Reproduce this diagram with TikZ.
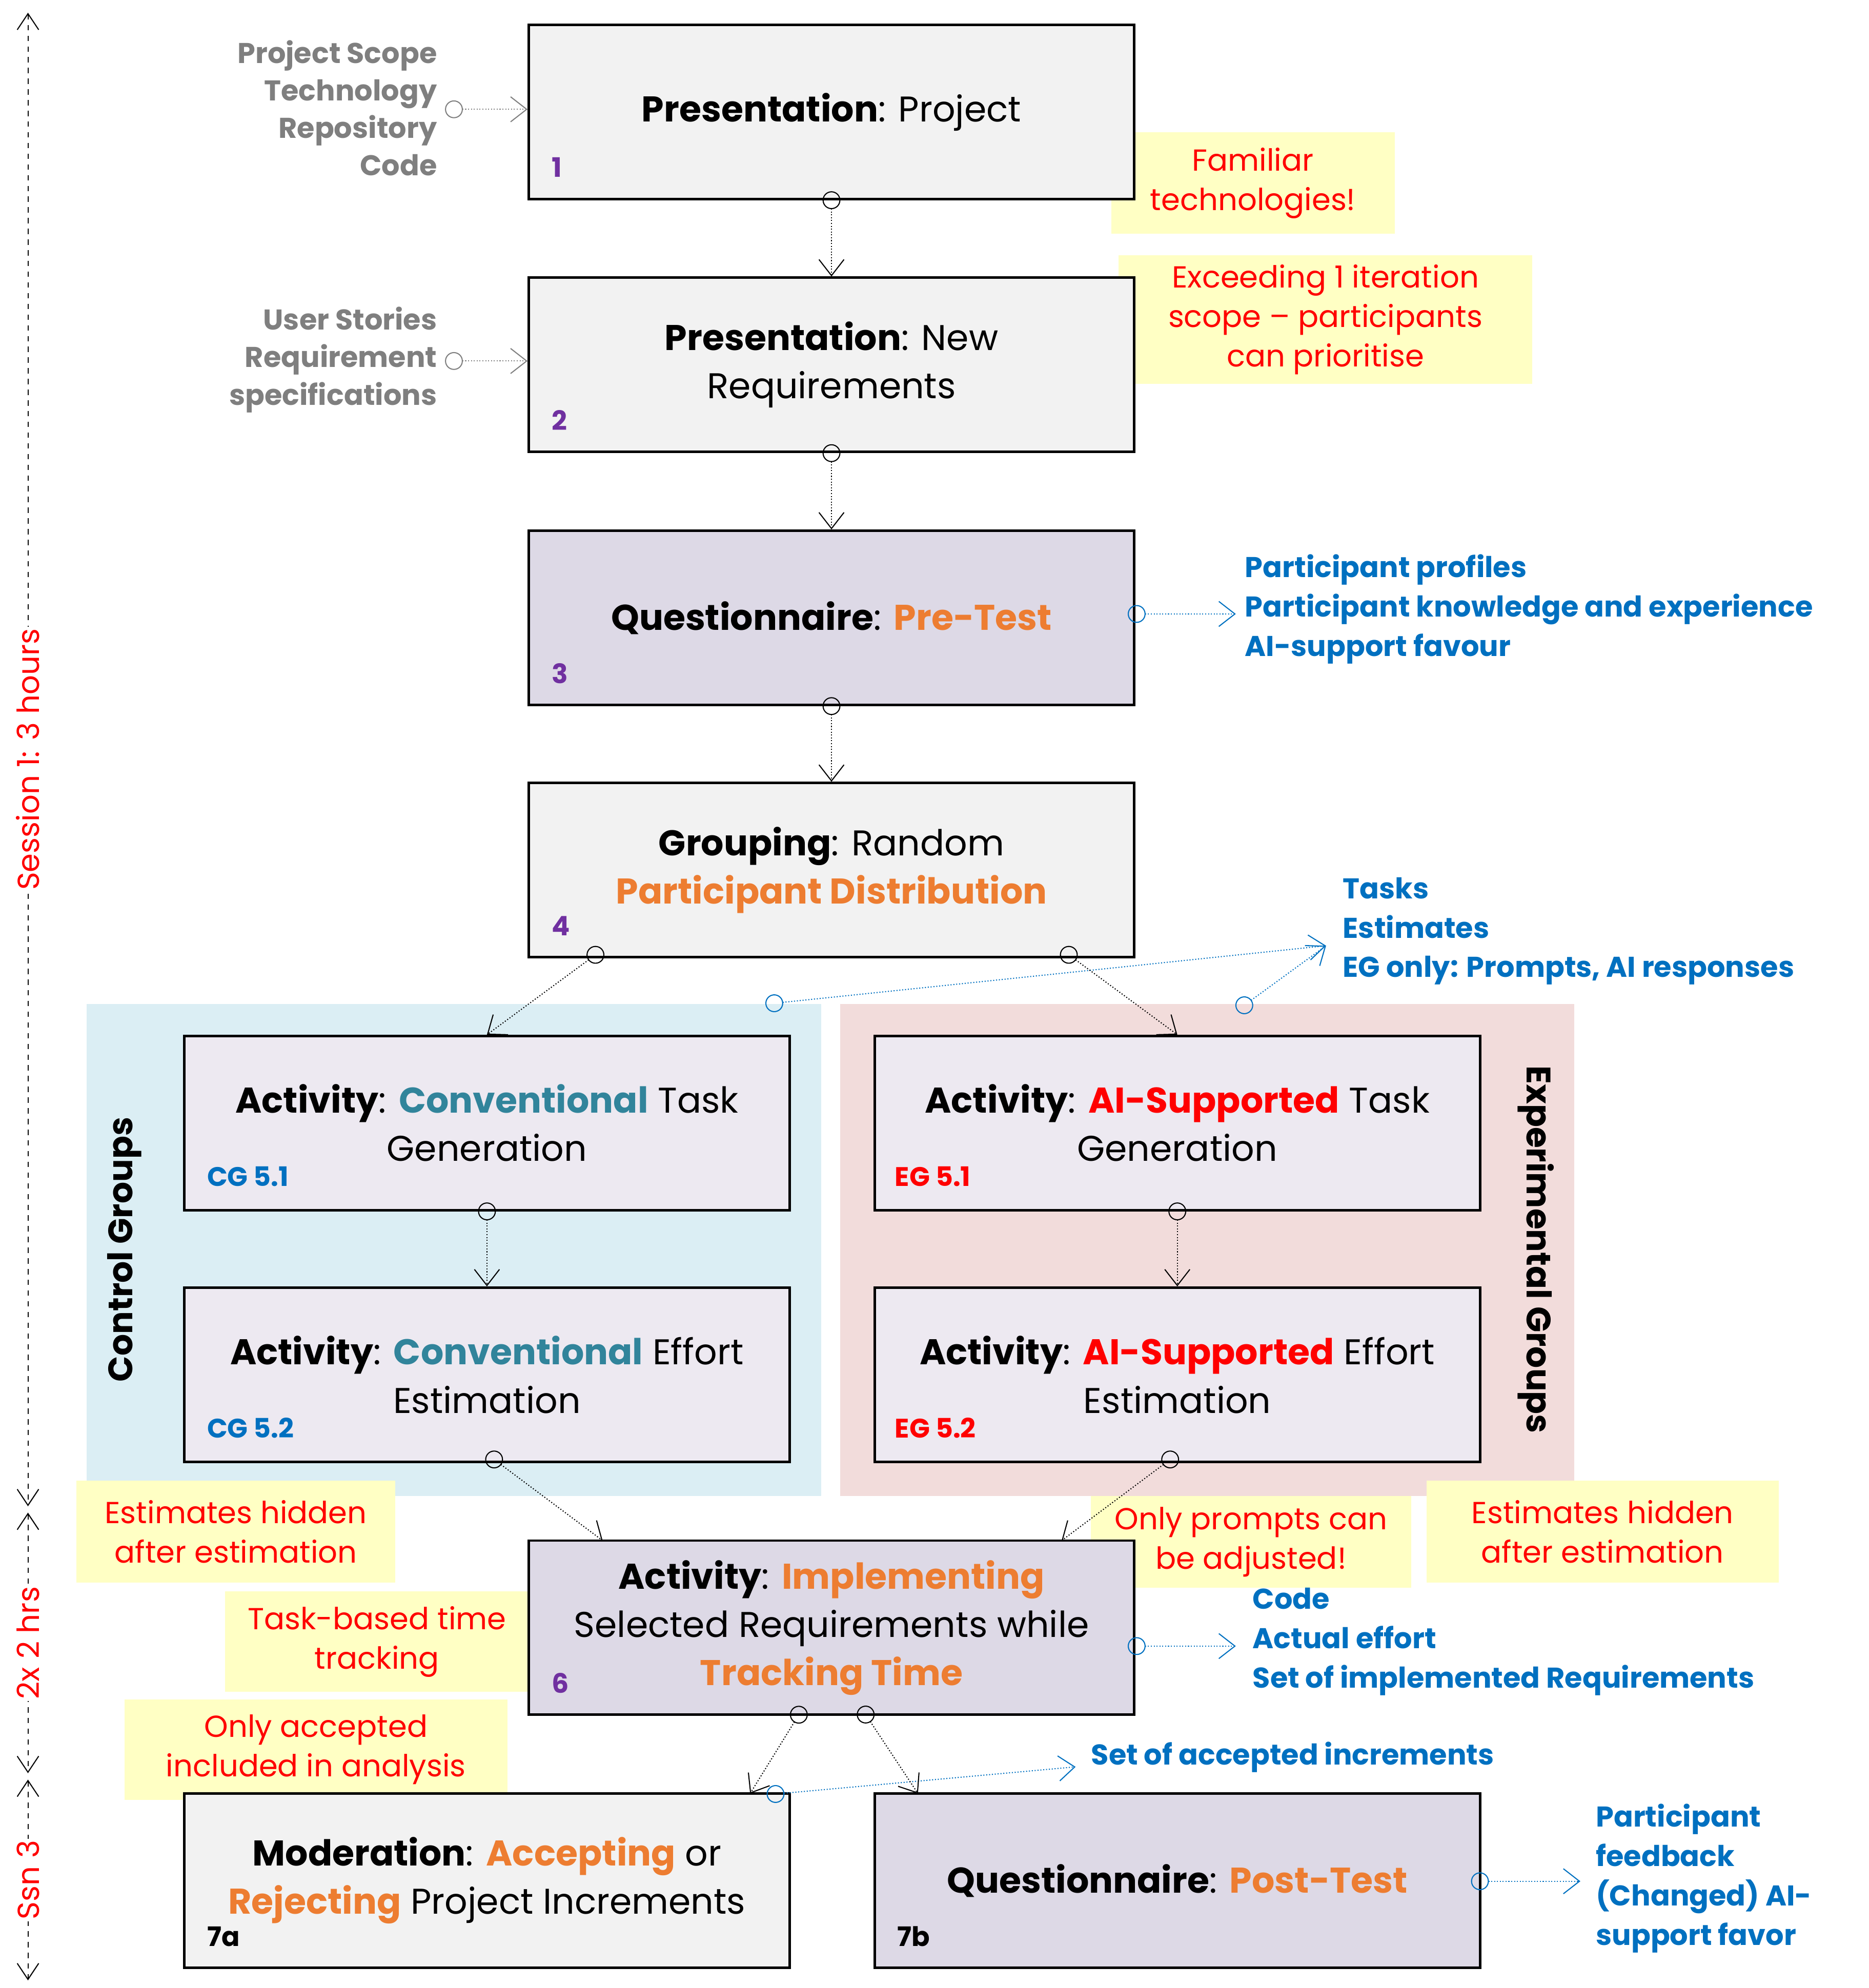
\documentclass[tikz,border=0pt]{standalone}
\usepackage{fontspec}
\setmainfont{Poppins}
\usetikzlibrary{arrows.meta,positioning}

\definecolor{boxgray}{HTML}{F2F2F2}
\definecolor{boxlila}{HTML}{DDD9E6}
\definecolor{boxpale}{HTML}{EDE9F1}
\definecolor{cgback}{HTML}{DBEEF4}
\definecolor{egback}{HTML}{F2DCDB}
\definecolor{notey}{HTML}{FFFFC4}
\definecolor{orng}{HTML}{ED7D31}
\definecolor{teal}{HTML}{31849B}
\definecolor{blu}{HTML}{0070C0}
\definecolor{purp}{HTML}{7030A0}
\definecolor{gry}{HTML}{7F7F7F}

\tikzset{
  stage/.style={draw, line width=1.4pt, minimum width=11.9cm, minimum height=3.425cm,
    align=center, font=\fontsize{20}{27}\selectfont, inner sep=0pt},
  num/.style={anchor=base west, font=\fontsize{15}{18}\selectfont\bfseries, text=purp},
  note/.style={fill=notey, text=red, align=center, font=\fontsize{17}{22}\selectfont, inner sep=0pt},
  info/.style={anchor=north west, align=left, text=blu, font=\fontsize{16}{22}\selectfont\bfseries, inner sep=0pt},
  flow/.style={densely dotted, line width=0.6pt, {Circle[open,length=10pt,width=10pt,line width=0.6pt]}-{Straight Barb[length=9pt,width=14pt,line width=0.6pt]}},
  outflow/.style={flow, blu},
  inflow/.style={flow, gry},
  span/.style={dashed, line width=0.6pt, {Straight Barb[length=9pt,width=12pt]}-{Straight Barb[length=9pt,width=12pt]}},
  spanlabel/.style={rotate=90, fill=white, text=red, font=\fontsize{17}{20}\selectfont, inner sep=1pt}
}

\begin{document}
\begin{tikzpicture}[x=0.025cm, y=-0.025cm]
\useasboundingbox (0,0) rectangle (1470,1564);

% group backgrounds
\fill[cgback] (68,790) rectangle (646,1177);
\fill[egback] (661,790) rectangle (1238,1177);
\node[rotate=90, font=\fontsize{19}{22}\selectfont\bfseries] (cglabel) at (98,983) {Control Groups};
\node[rotate=-90, font=\fontsize{19}{22}\selectfont\bfseries] (eglabel) at (1208,983) {Experimental Groups};

% yellow notes
\node[note, minimum width=5.575cm, minimum height=2cm] (nfam) at (985.5,144) {Familiar\\technologies!};
\node[note, minimum width=8.125cm, minimum height=2.525cm] (nexc) at (1042.5,251.5) {Exceeding 1 iteration\\scope -- participants\\can prioritise};
\node[note, minimum width=6.275cm, minimum height=2cm] (nhid1) at (185.5,1205) {Estimates hidden\\after estimation};
\node[note, minimum width=6.3cm, minimum height=1.8cm] (nprm) at (984,1213) {Only prompts can\\be adjusted!};
\node[note, minimum width=6.925cm, minimum height=2cm] (nhid2) at (1260.5,1205) {Estimates hidden\\after estimation};
\node[note, minimum width=5.975cm, minimum height=1.975cm] (ntrk) at (296.5,1291.5) {Task-based time\\tracking};
\node[note, minimum width=7.525cm, minimum height=1.975cm] (nacc) at (248.5,1376.5) {Only accepted\\included in analysis};

% stages
\node[stage, fill=boxgray] (b1) at (654,88) {\textbf{Presentation}: Project};
\node[stage, fill=boxgray] (b2) at (654,287) {\textbf{Presentation}: New\\Requirements};
\node[stage, fill=boxlila] (b3) at (654,486) {\textbf{Questionnaire}: \textbf{\color{orng}Pre-Test}};
\node[stage, fill=boxgray] (b4) at (654,684.5) {\textbf{Grouping}: Random\\\textbf{\color{orng}Participant Distribution}};
\node[stage, fill=boxpale] (cg1) at (383,883.5) {\textbf{Activity}: \textbf{\color{teal}Conventional} Task\\Generation};
\node[stage, fill=boxpale] (cg2) at (383,1081.5) {\textbf{Activity}: \textbf{\color{teal}Conventional} Effort\\Estimation};
\node[stage, fill=boxpale] (eg1) at (926,883.5) {\textbf{Activity}: \textbf{\color{red}AI-Supported} Task\\Generation};
\node[stage, fill=boxpale] (eg2) at (926,1081.5) {\textbf{Activity}: \textbf{\color{red}AI-Supported} Effort\\Estimation};
\node[stage, fill=boxlila] (b6) at (654,1280.5) {\textbf{Activity}: \textbf{\color{orng}Implementing}\\Selected Requirements while\\\textbf{\color{orng}Tracking Time}};
\node[stage, fill=boxgray] (b7a) at (383,1479.5) {\textbf{Moderation}: \textbf{\color{orng}Accepting} or\\\textbf{\color{orng}Rejecting} Project Increments};
\node[stage, fill=boxlila] (b7b) at (926,1479.5) {\textbf{Questionnaire}: \textbf{\color{orng}Post-Test}};

% stage numbers
\node[num] at ([shift={(0.35cm,0.45cm)}]b1.south west) {1};
\node[num] at ([shift={(0.35cm,0.45cm)}]b2.south west) {2};
\node[num] at ([shift={(0.35cm,0.45cm)}]b3.south west) {3};
\node[num] at ([shift={(0.35cm,0.45cm)}]b4.south west) {4};
\node[num, text=blu] at ([shift={(0.35cm,0.5cm)}]cg1.south west) {CG 5.1};
\node[num, text=blu] at ([shift={(0.35cm,0.5cm)}]cg2.south west) {CG 5.2};
\node[num, text=red] at ([shift={(0.3cm,0.5cm)}]eg1.south west) {EG 5.1};
\node[num, text=red] at ([shift={(0.3cm,0.5cm)}]eg2.south west) {EG 5.2};
\node[num] at ([shift={(0.35cm,0.45cm)}]b6.south west) {6};
\node[num, text=black] at ([shift={(0.35cm,0.45cm)}]b7a.south west) {7a};
\node[num, text=black] at ([shift={(0.35cm,0.45cm)}]b7b.south west) {7b};

% inputs
\node[anchor=east, align=right, text=gry, font=\fontsize{16}{21}\selectfont\bfseries, inner sep=0pt] (in1) at (344,85) {Project Scope\\Technology\\Repository\\Code};
\node[anchor=east, align=right, text=gry, font=\fontsize{16}{21}\selectfont\bfseries, inner sep=0pt] (in2) at (344,283) {User Stories\\Requirement\\specifications};
\coordinate (in1s) at (350,86);
\coordinate (in2s) at (350,284);
\draw[inflow] (in1s) -- (in1s -| b1.west);
\draw[inflow] (in2s) -- (in2s -| b2.west);

% outputs
\node[info] (out3) at (979,436) {Participant profiles\\Participant knowledge and experience\\AI-support favour};
\node[info] (out4) at (1056,690) {Tasks\\Estimates\\EG only: Prompts, AI responses};
\node[info] (out6) at (985,1249) {Code\\Actual effort\\Set of implemented Requirements};
\node[info] (out7) at (858,1370) {Set of accepted increments};
\node[info] (out7b) at (1255,1419) {Participant\\feedback\\(Changed) AI-\\support favor};

\coordinate (o3) at (887,483);
\coordinate (o4a) at (602,790);
\coordinate (o4b) at (973,795);
\coordinate (o4t) at (1043,744);
\coordinate (o6) at (887,1295);
\coordinate (o7) at (603,1412);
\coordinate (o7t) at (846,1390);
\coordinate (o7b) at (1157,1480);
\draw[outflow] (o3) -- (972,483);
\draw[outflow] (o4a) -- (o4t);
\draw[outflow] (o4b) -- (o4t);
\draw[outflow] (o6) -- (972,1295);
\draw[outflow] (o7) -- (o7t);
\draw[outflow] (o7b) -- (1243,1480);

% main flow
\draw[flow] ([yshift=5pt]b1.south) -- (b2.north);
\draw[flow] ([yshift=5pt]b2.south) -- (b3.north);
\draw[flow] ([yshift=5pt]b3.south) -- (b4.north);
\coordinate (s4a) at (474,747);
\coordinate (s4b) at (835,747);
\draw[flow] (s4a) -- (cg1.north);
\draw[flow] (s4b) -- (eg1.north);
\draw[flow] ([yshift=5pt]cg1.south) -- (cg2.north);
\draw[flow] ([yshift=5pt]eg1.south) -- (eg2.north);
\draw[flow] ([yshift=5pt]cg2.south) -- (474,1212);
\draw[flow] ([yshift=5pt]eg2.south) -- (835,1212);
\coordinate (s6a) at (632,1343);
\coordinate (s6b) at (677,1343);
\draw[flow] (s6a) -- (590,1411);
\draw[flow] (s6b) -- (722,1411);

% timeline
\coordinate (t0) at (22,10);
\coordinate (t1) at (22,1185);
\coordinate (t2) at (22,1190);
\coordinate (t3) at (22,1395);
\coordinate (t4) at (22,1400);
\coordinate (t5) at (22,1558);
\draw[span] (t0) -- node[spanlabel] {Session 1: 3 hours} (t1);
\draw[span] (t2) -- node[spanlabel] {2x 2 hrs} (t3);
\draw[span] (t4) -- node[spanlabel] {Ssn 3} (t5);

\end{tikzpicture}
\end{document}
